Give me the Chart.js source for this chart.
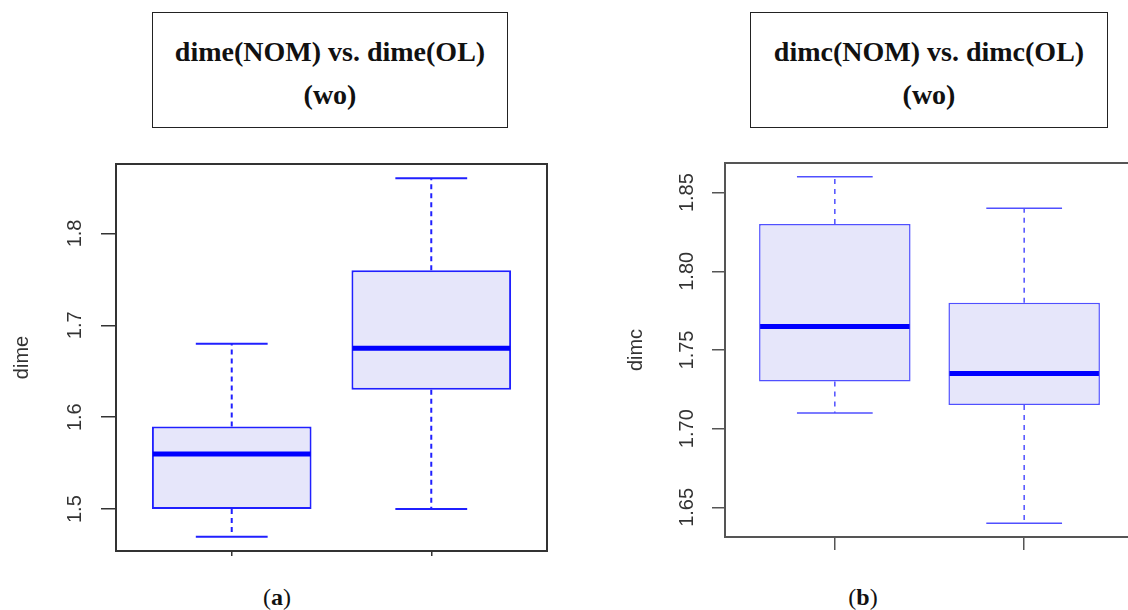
<!DOCTYPE html>
<html>
<head>
<meta charset="utf-8">
<script src="https://cdn.jsdelivr.net/npm/chart.js@4.4.1/dist/chart.umd.min.js"></script>
<style>
  html, body { margin: 0; padding: 0; background: #fff; }
  body { width: 1128px; height: 610px; overflow: hidden; position: relative; }
  canvas { position: absolute; }
  .titleBox {
    position: absolute; top: 12px; height: 116px; box-sizing: border-box;
    border: 1.5px solid #222; text-align: center;
    font-family: "Liberation Serif", "DejaVu Serif", serif; font-weight: bold;
    font-size: 28px; line-height: 43px; padding-top: 17px; color: #111;
  }
  .caption {
    position: absolute; top: 583px; width: 80px; text-align: center;
    font-family: "Liberation Serif", "DejaVu Serif", serif; font-size: 24px; line-height: 28px; color: #111;
  }
</style>
</head>
<body>
<div class="titleBox" style="left:152px; width:356px;">dime(NOM) vs. dime(OL)<br>(wo)</div>
<div class="titleBox" style="left:750px; width:358px;">dimc(NOM) vs. dimc(OL)<br>(wo)</div>
<canvas id="chartA" width="564" height="440" style="left:0; top:140px;"></canvas>
<canvas id="chartB" width="540" height="440" style="left:600px; top:140px;"></canvas>
<div class="caption" style="left:237px;">(<b>a</b>)</div>
<div class="caption" style="left:823px;">(<b>b</b>)</div>
<script>
// --- DATA ---
const groups = [1, 2]; // NOM, OL

// dime
const dimeLow = [1.47, 1.50];
const dimeQ1 = [1.50, 1.63];
const dimeMedian = [1.56, 1.675];
const dimeQ3 = [1.59, 1.76];
const dimeHigh = [1.68, 1.86];
const dimeTicks = [1.5, 1.6, 1.7, 1.8];

// dimc
const dimcLow = [1.71, 1.64];
const dimcQ1 = [1.73, 1.715];
const dimcMedian = [1.765, 1.735];
const dimcQ3 = [1.83, 1.78];
const dimcHigh = [1.86, 1.84];
const dimcTicks = [1.65, 1.70, 1.75, 1.80, 1.85];

// R style range: data range + 4% on each side
function rRange(low, high) {
    const lo = Math.min(...low), hi = Math.max(...high);
    const pad = (hi - lo) * 0.04;
    return [lo - pad, hi + pad];
}

// medians, whiskers and the frame (R boxplot look)
const boxExtras = {
    id: 'boxExtras',
    afterDatasetsDraw(chart, args, opts) {
        const ctx = chart.ctx;
        const y = chart.scales.y;
        const meta = chart.getDatasetMeta(0);
        meta.data.forEach((bar, i) => {
            const x = bar.x;
            const w = bar.width;
            const cap = w * opts.capRatio / 2;
            const yLow = y.getPixelForValue(opts.low[i]);
            const yQ1 = y.getPixelForValue(opts.q1[i]);
            const yQ3 = y.getPixelForValue(opts.q3[i]);
            const yHigh = y.getPixelForValue(opts.high[i]);
            const yMed = y.getPixelForValue(opts.median[i]);

            ctx.save();
            ctx.strokeStyle = opts.color;
            ctx.lineWidth = opts.whiskerWidth;
            ctx.setLineDash(opts.dash);
            ctx.beginPath();
            ctx.moveTo(x, yQ3); ctx.lineTo(x, yHigh);
            ctx.moveTo(x, yQ1); ctx.lineTo(x, yLow);
            ctx.stroke();
            ctx.setLineDash([]);
            ctx.beginPath();
            ctx.moveTo(x - cap, yHigh); ctx.lineTo(x + cap, yHigh);
            ctx.moveTo(x - cap, yLow); ctx.lineTo(x + cap, yLow);
            ctx.stroke();
            // median
            ctx.strokeStyle = '#0000ff';
            ctx.lineWidth = 5;
            ctx.beginPath();
            ctx.moveTo(x - w / 2 + 1, yMed); ctx.lineTo(x + w / 2 - 1, yMed);
            ctx.stroke();
            ctx.restore();
        });
    },
    afterDraw(chart, args, opts) {
        const a = chart.chartArea;
        const ctx = chart.ctx;
        ctx.save();
        ctx.strokeStyle = opts.frameColor;
        ctx.lineWidth = 2;
        ctx.strokeRect(a.left, a.top, a.right - a.left, a.bottom - a.top);
        ctx.restore();
    }
};

function makeBoxChart(canvasId, cfg) {
    const yr = rRange(cfg.low, cfg.high);
    return new Chart(document.getElementById(canvasId), {
        type: 'bar',
        data: {
            datasets: [{
                data: groups.map((g, i) => ({ x: g, y: [cfg.q1[i], cfg.q3[i]] })),
                backgroundColor: '#e6e6fa',
                borderColor: cfg.color,
                borderWidth: cfg.boxWidth,
                borderSkipped: false,
                barPercentage: 0.8,
                categoryPercentage: 1.0
            }]
        },
        plugins: [boxExtras],
        options: {
            responsive: false,
            animation: false,
            layout: { padding: cfg.padding },
            plugins: {
                legend: { display: false },
                tooltip: { enabled: false },
                boxExtras: {
                    low: cfg.low, q1: cfg.q1, median: cfg.median, q3: cfg.q3, high: cfg.high,
                    color: cfg.color, whiskerWidth: cfg.whiskerWidth, dash: cfg.dash,
                    capRatio: cfg.capRatio, frameColor: cfg.frameColor
                }
            },
            scales: {
                x: {
                    type: 'linear',
                    min: 0.42,
                    max: 2.58,
                    offset: false,
                    afterBuildTicks: s => { s.ticks = groups.map(v => ({ value: v })); },
                    afterFit: s => { s.height = cfg.xAxisHeight; },
                    ticks: { display: false },
                    border: { display: false },
                    grid: { offset: false, drawOnChartArea: false, tickLength: cfg.xTickLength, color: cfg.frameColor, lineWidth: 1.5 }
                },
                y: {
                    min: yr[0],
                    max: yr[1],
                    afterBuildTicks: s => { s.ticks = cfg.ticks.map(v => ({ value: v })); },
                    afterFit: s => { s.width = cfg.yAxisWidth; },
                    border: { display: false },
                    grid: { drawOnChartArea: false, tickLength: cfg.yTickLength, color: cfg.frameColor, lineWidth: 1.5 },
                    ticks: {
                        minRotation: 90,
                        maxRotation: 90,
                        crossAlign: 'center',
                        padding: cfg.tickPadding,
                        color: '#333',
                        font: { family: 'Liberation Sans, Arial, sans-serif', size: 20 },
                        callback: v => v.toFixed(cfg.decimals)
                    },
                    title: {
                        display: true,
                        text: cfg.label,
                        color: '#333',
                        padding: { top: cfg.titlePad, bottom: 0 },
                        font: { family: 'Liberation Sans, Arial, sans-serif', size: 20 }
                    }
                }
            }
        }
    });
}

makeBoxChart('chartA', {
    low: dimeLow, q1: dimeQ1, median: dimeMedian, q3: dimeQ3, high: dimeHigh,
    ticks: dimeTicks, decimals: 1, label: 'dime',
    color: '#2020ff', boxWidth: 2, whiskerWidth: 2, dash: [5, 4], capRatio: 0.45,
    frameColor: '#333',
    padding: { top: 19, right: 17, left: 0, bottom: 0 },
    xAxisHeight: 29, yAxisWidth: 116,
    xTickLength: 5, yTickLength: 15, tickPadding: 12, titlePad: 10
});

makeBoxChart('chartB', {
    low: dimcLow, q1: dimcQ1, median: dimcMedian, q3: dimcQ3, high: dimcHigh,
    ticks: dimcTicks, decimals: 2, label: 'dimc',
    color: '#5050ff', boxWidth: 1.5, whiskerWidth: 1.5, dash: [5, 5], capRatio: 0.5,
    frameColor: '#555',
    padding: { top: 23, right: 6, left: 0, bottom: 0 },
    xAxisHeight: 43, yAxisWidth: 125,
    xTickLength: 13, yTickLength: 13, tickPadding: 5, titlePad: 24
});
</script>
</body>
</html>
